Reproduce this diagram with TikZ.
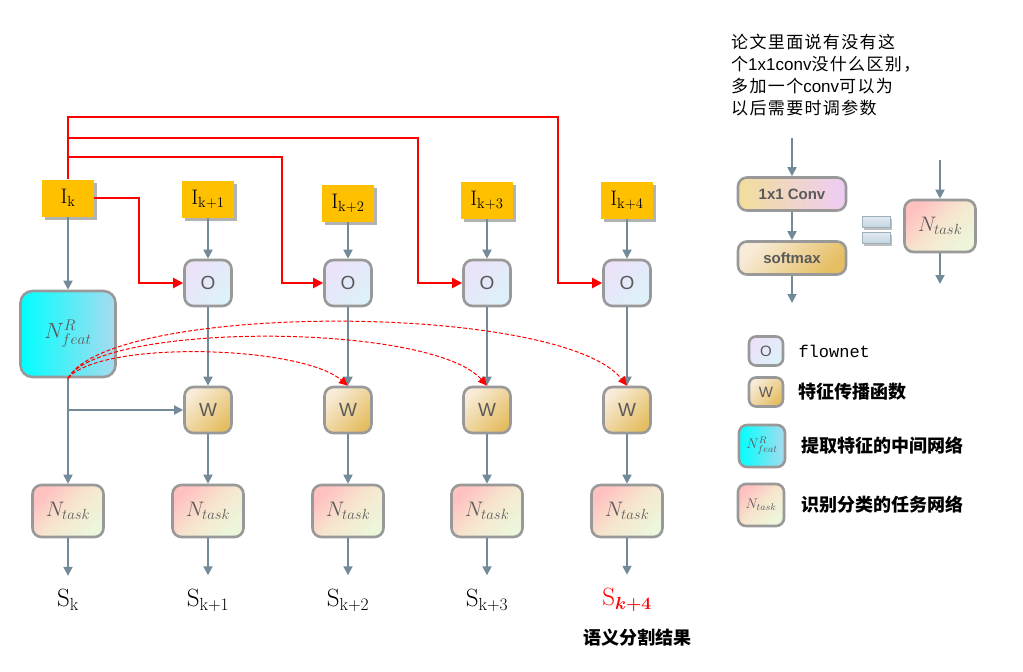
\RequirePackage{fix-cm}
\documentclass[tikz,border=0pt]{standalone}
\usepackage{amsmath}
\usepackage{fontspec}
\usetikzlibrary{arrows.meta,positioning,calc,shadows}
\newfontfamily\cjk{Noto Sans CJK SC}
\newfontfamily\cjknote[LetterSpace=8]{Noto Sans CJK SC}
\newfontfamily\arial{Liberation Sans}
\newfontfamily\mono{Liberation Mono}
\definecolor{slate}{HTML}{738B98}
\definecolor{rim}{HTML}{999999}
\definecolor{gold}{HTML}{FFC000}
\definecolor{ink}{HTML}{5A5A5A}
\definecolor{flowa}{HTML}{EBE2F8}
\definecolor{flowb}{HTML}{DDF1FA}
\definecolor{warpa}{HTML}{F8ECD9}
\definecolor{warpb}{HTML}{E5BE62}
\definecolor{taska}{HTML}{FFC0C0}
\definecolor{taskb}{HTML}{F6E6CE}
\definecolor{taskc}{HTML}{ECF6DB}
\definecolor{feata}{HTML}{A8DBEE}
\definecolor{conva}{HTML}{F1DE9A}
\definecolor{convb}{HTML}{EECCF6}
\definecolor{bara}{HTML}{E2EAF1}
\definecolor{barb}{HTML}{C3D4DF}
\definecolor{barrim}{HTML}{9DB0BE}

\begin{document}
\begin{tikzpicture}[x=1pt,y=-1pt,
  box/.style={draw=rim,line width=2.6pt,rounded corners=9pt,text=ink,inner sep=0pt},
  img/.style={fill=gold,minimum width=52pt,minimum height=37pt,inner sep=0pt,font=\fontsize{21}{21}\selectfont,
    drop shadow={shadow xshift=3pt,shadow yshift=-3pt,opacity=.3,fill=black}},
  flow/.style={box,top color=flowa,bottom color=flowb,shading angle=45,minimum width=47pt,minimum height=46pt,font=\arial\fontsize{19}{19}\selectfont},
  warp/.style={box,top color=warpa,bottom color=warpb,shading angle=45,minimum width=47pt,minimum height=46pt,font=\arial\fontsize{19}{19}\selectfont},
  task/.style={box,top color=taska,bottom color=taskc,middle color=taskb,shading angle=45,minimum width=71pt,minimum height=52pt,font=\fontsize{21}{21}\selectfont},
  feat/.style={box,left color=cyan,right color=feata,minimum width=95pt,minimum height=86pt,rounded corners=12pt,font=\fontsize{22}{22}\selectfont},
  pill/.style={box,minimum width=108pt,minimum height=33pt,font=\arial\bfseries\fontsize{15}{15}\selectfont},
  bar/.style={draw=barrim,line width=.6pt,top color=bara,bottom color=barb,minimum width=28pt,minimum height=11pt,inner sep=0pt,
    drop shadow={shadow xshift=2pt,shadow yshift=-2pt,opacity=.25,fill=black}},
  seg/.style={font=\fontsize{25}{25}\selectfont},
  garr/.style={-{Triangle[length=9pt,width=9pt]},line width=1.8pt,slate},
  rarr/.style={-{Triangle[length=10pt,width=10pt]},line width=2pt,red},
  rdash/.style={-{Triangle[length=9pt,width=8pt]},line width=1pt,red,dash pattern=on 4pt off 2pt},
  lab/.style={font=\cjk\bfseries\fontsize{18}{18}\selectfont,inner sep=0pt,anchor=west}]
\useasboundingbox (0,0) rectangle (1023,672);

% frames and flow / warp / task columns
\node[img] (i0) at (68,198) {$\mathrm{I}_{\mathrm{k}}$};
\node[img] (i1) at (208,199) {$\mathrm{I}_{\mathrm{k+1}}$};
\node[img] (i2) at (348,203) {$\mathrm{I}_{\mathrm{k+2}}$};
\node[img] (i3) at (487,200) {$\mathrm{I}_{\mathrm{k+3}}$};
\node[img] (i4) at (627,200) {$\mathrm{I}_{\mathrm{k+4}}$};
\node[feat] (feat) at (68,334) {$N_{feat}^{R}$};
\node[flow] (o1) at (208,283) {O};
\node[flow] (o2) at (348,283) {O};
\node[flow] (o3) at (487,283) {O};
\node[flow] (o4) at (627,283) {O};
\node[warp] (w1) at (208,410) {W};
\node[warp] (w2) at (348,410) {W};
\node[warp] (w3) at (487,410) {W};
\node[warp] (w4) at (627,410) {W};
\node[task] (t0) at (68,511) {$N_{task}$};
\node[task] (t1) at (208,511) {$N_{task}$};
\node[task] (t2) at (348,511) {$N_{task}$};
\node[task] (t3) at (487,511) {$N_{task}$};
\node[task] (t4) at (627,511) {$N_{task}$};
\node[seg] (s0) at (68,600) {$\mathrm{S}_{\mathrm{k}}$};
\node[seg] (s1) at (208,600) {$\mathrm{S}_{\mathrm{k+1}}$};
\node[seg] (s2) at (348,600) {$\mathrm{S}_{\mathrm{k+2}}$};
\node[seg] (s3) at (487,600) {$\mathrm{S}_{\mathrm{k+3}}$};
\node[seg,text=red] (s4) at (627,600) {$\mathrm{S}_{\boldsymbol{k+4}}$};
\node[lab,anchor=center] (segnote) at (637,638) {语义分割结果};

\draw[garr] (i0) -- (feat);
\draw[garr] (feat) -- (t0);
\draw[garr] (feat.south |- w1) -- (w1);
\draw[garr] (i1) -- (o1);
\draw[garr] (i2) -- (o2);
\draw[garr] (i3) -- (o3);
\draw[garr] (i4) -- (o4);
\draw[garr] (o1) -- (w1);
\draw[garr] (o2) -- (w2);
\draw[garr] (o3) -- (w3);
\draw[garr] (o4) -- (w4);
\draw[garr] (w1) -- (t1);
\draw[garr] (w2) -- (t2);
\draw[garr] (w3) -- (t3);
\draw[garr] (w4) -- (t4);
\draw[garr,shorten >=10pt] (t0) -- (s0);
\draw[garr,shorten >=10pt] (t1) -- (s1);
\draw[garr,shorten >=10pt] (t2) -- (s2);
\draw[garr,shorten >=10pt] (t3) -- (s3);
\draw[garr,shorten >=10pt] (t4) -- (s4);

% key frame feeds every flownet
\draw[rarr] (i0.east) -- ++(45,0) |- (o1);
\draw[rarr] (i0.north) |- (282,157) |- (o2);
\draw[rarr] (i0.north) |- (418,138) |- (o3);
\draw[rarr] (i0.north) |- (558,117) |- (o4);
\draw[rdash] (feat.south) .. controls (100,340) and (300,345) .. (w2.north);
\draw[rdash] (feat.south) .. controls (100,322) and (430,322) .. (w3.north);
\draw[rdash] (feat.south) .. controls (110,302) and (560,302) .. (w4.north);

% note on the task head
\node[anchor=north west,align=left,inner sep=0pt,font=\cjknote\fontsize{17}{22}\selectfont] (note) at (731,34)
  {论文里面说有没有这\\个{\arial 1x1conv}没什么区别，\\多加一个{\arial conv}可以为\\以后需要时调参数};
\node[pill,left color=conva,right color=convb] (conv) at (792,194) {1x1 Conv};
\node[pill,top color=warpa,bottom color=warpb,shading angle=45] (soft) at (792,258) {softmax};
\node[bar] (bara) at (876,222) {};
\node[bar] (barb) at (876,238) {};
\node[task] (tr) at (940,226) {$N_{task}$};
\coordinate (cin) at (792,138);
\coordinate (cout) at (792,303);
\coordinate (tin) at (940,160);
\coordinate (tout) at (940,284);
\draw[garr] (cin) -- (conv);
\draw[garr] (conv) -- (soft);
\draw[garr] (soft) -- (cout);
\draw[garr] (tin) -- (tr);
\draw[garr] (tr) -- (tout);

% legend
\node[flow,minimum width=34pt,minimum height=29pt,rounded corners=7pt,font=\arial\fontsize{15}{15}\selectfont] (lo) at (766,351) {O};
\node[warp,minimum width=34pt,minimum height=29pt,rounded corners=7pt,font=\arial\fontsize{15}{15}\selectfont] (lw) at (766,392) {W};
\node[feat,minimum width=46pt,minimum height=42pt,rounded corners=8pt,font=\fontsize{14}{14}\selectfont] (lf) at (762,446) {$N_{feat}^{R}$};
\node[task,minimum width=46pt,minimum height=42pt,rounded corners=8pt,font=\fontsize{14}{14}\selectfont] (lt) at (761,505) {$N_{task}$};
\node[lab,font=\mono\fontsize{17}{17}\selectfont,right=14pt of lo] (lotext) {flownet};
\node[lab,right=14pt of lw] (lwtext) {特征传播函数};
\node[lab,right=15pt of lf] (lftext) {提取特征的中间网络};
\node[lab,right=16pt of lt] (lttext) {识别分类的任务网络};
\end{tikzpicture}
\end{document}
